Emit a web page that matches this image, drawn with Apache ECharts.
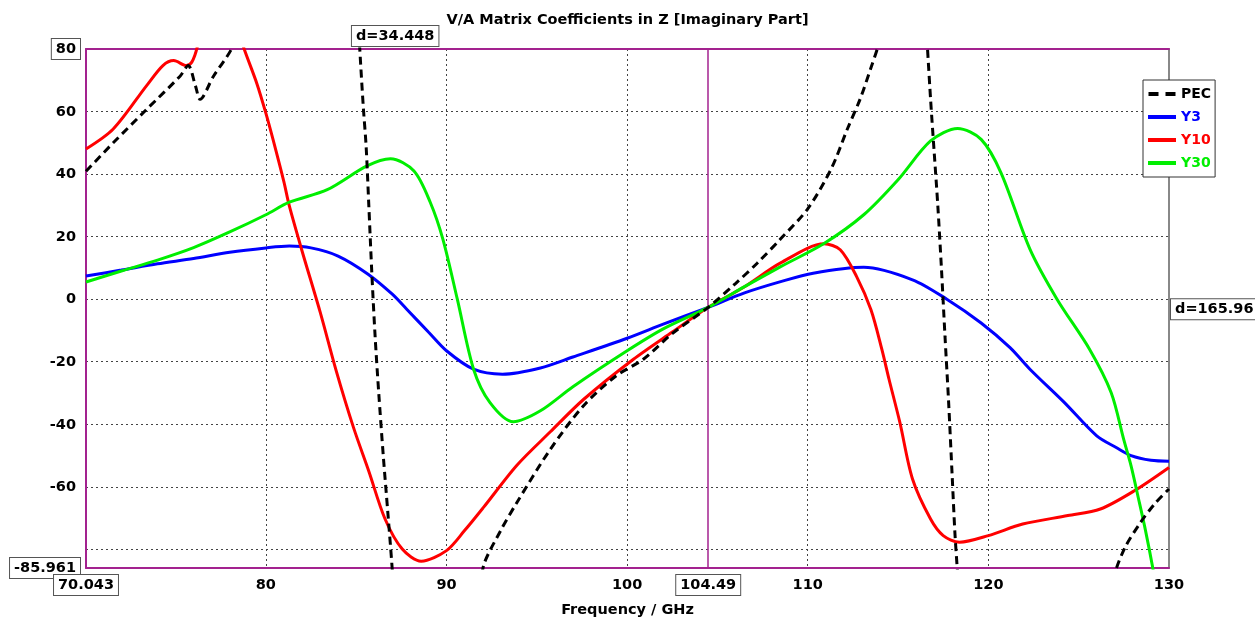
<!DOCTYPE html>
<html>
<head>
<meta charset="utf-8">
<script src="https://cdn.jsdelivr.net/npm/echarts@6/dist/echarts.min.js"></script>
<style>
  html, body { margin: 0; padding: 0; background: #fff; }
  #chart { width: 1255px; height: 619px; }
</style>
</head>
<body>
<div id="chart"></div>
<script>
// Imaginary part of the V/A matrix coefficients in Z, [frequency GHz, value]
// '-' breaks a curve where it leaves the plotted range through a pole.
const PEC = [
  [70.043, 40.9], [71.55, 50], [73.4, 60.7], [75.25, 71.3], [75.7, 74.7], [76.1, 68.3],
  [76.36, 63.9], [77.1, 71.3], [78.1, 80], [78.35, 85], ['-', '-'],
  [85.1, 90], [85.25, 75], [85.4, 61], [85.55, 49], [85.7, 30], [85.87, 8], [86.05, -12],
  [86.25, -30], [86.5, -50], [86.75, -68], [86.98, -85], [87.05, -92], ['-', '-'],
  [91.95, -92], [92.06, -85], [93, -74], [93.9, -65], [95.75, -48], [97.6, -34],
  [99.4, -24.5], [100.9, -19.2], [102.5, -11], [104.49, -2.6], [106, 5], [107.2, 11.5],
  [108.5, 19.3], [110, 28.9], [111.3, 41.7], [112.2, 54.5], [112.9, 64], [113.5, 74],
  [113.9, 81], [114.1, 86], ['-', '-'],
  [116.55, 88], [116.8, 64], [117.0, 47], [117.2, 30], [117.4, 10], [117.6, -12],
  [117.8, -33], [118.0, -57], [118.15, -75], [118.3, -88], ['-', '-'],
  [126.95, -90], [127.1, -85.9], [127.6, -79], [128.4, -71.6], [129.2, -65.5], [130, -60.7]
];
const Y3 = [
  [70.043, 7.4], [72, 9.3], [74, 11.3], [76, 13], [78, 15], [80, 16.4], [81.3, 17],
  [82.5, 16.4], [84, 13.8], [85.66, 8], [87, 1.6], [87.8, -3.2], [89, -10.5], [90, -16.5],
  [91.5, -22.4], [93.1, -24], [95.2, -22], [97, -18.5], [100, -12.5], [102, -8],
  [104.49, -2.6], [106.5, 2], [108.5, 5.6], [110.3, 8.3], [113.1, 10.2], [115.8, 6.2],
  [117.7, 0], [119.6, -7.6], [121.2, -15.5], [122.3, -22.4], [124.2, -33], [126, -43.7],
  [127.1, -47.5], [127.9, -50], [129, -51.5], [130, -51.8]
];
const Y10 = [
  [70.043, 48], [71.55, 54.4], [73.4, 68.3], [74.3, 74.7], [74.9, 76.3], [75.6, 74.7],
  [75.9, 75.8], [76.2, 80.6], [76.4, 88], ['-', '-'],
  [78.6, 84], [78.8, 80], [79.5, 69], [80, 59.5], [80.4, 51], [81, 37.5], [81.3, 29.8],
  [82, 15.5], [83, -4], [83.9, -23], [84.85, -41], [85.7, -55], [86.6, -70.3],
  [87.55, -79.9], [88.6, -83.8], [90, -80.4], [91, -74], [92.06, -66.5], [93.9, -53.1],
  [95.75, -42.4], [97.6, -32], [100.35, -19.2], [102.5, -10.5], [104.49, -2.6],
  [106.5, 4], [108.5, 11.6], [110.9, 17.7], [111.8, 15.8], [112.7, 7.3], [113.5, -3.4],
  [114.1, -16], [114.5, -25.6], [115.1, -39.4], [115.8, -57.5], [116.8, -70.3],
  [117.5, -75.6], [118.4, -77.7], [120, -75.6], [121.9, -71.9], [124.4, -69.2],
  [126.2, -67.1], [128.1, -61.2], [130, -53.8]
];
const Y30 = [
  [70.043, 5.5], [72, 9], [74, 12.5], [76, 16.5], [78, 21.5], [80, 27], [81.3, 31],
  [83.4, 35], [85.6, 42.6], [86.9, 44.9], [88.2, 41], [89.1, 31], [89.8, 19.2],
  [90.6, 0], [91.5, -22.4], [92.4, -33], [93.7, -39.2], [95.2, -35.7], [97, -28],
  [100, -16.5], [102, -9.5], [104.49, -2.6], [106.5, 4], [108.5, 10.4], [110.9, 17.8],
  [113.1, 27], [115, 38.2], [116.8, 50.6], [118.3, 54.6], [119.6, 51.1], [120.7, 40.4],
  [122.3, 16], [123.8, 0], [125.6, -16], [126.8, -29.9], [127.5, -45], [127.9, -53.3],
  [128.3, -63.5], [128.7, -74], [129.1, -85.9], [129.2, -90]
];

// Axis ticks, labels and grid positions
const xLabels = [70.043, 80, 90, 100, 104.49, 110, 120, 130];
const yLabels = [80, 60, 40, 20, 0, -20, -40, -60, -85.961];
const xGrid = [80, 90, 100, 110, 120];
const yGrid = [60, 40, 20, 0, -20, -40, -60, -80];
const xBoxed = [70.043, 104.49];
const yBoxed = [80, -85.961];
const xMin = 70.043, xMax = 130, yMin = -85.961, yMax = 80;
const markerFreq = 104.49;

const FONT = 'DejaVu Sans';
const FRAME = '#a3228f';
const FS = 14.5;

const boxStyle = {
  borderColor: '#555', borderWidth: 1, backgroundColor: '#fff',
  padding: [3, 4, 2, 4], fontWeight: 'bold', fontSize: FS, fontFamily: FONT, color: '#000'
};
const plainStyle = { fontWeight: 'bold', fontSize: FS, fontFamily: FONT, color: '#000', padding: [3, 4, 2, 4] };

const chart = echarts.init(document.getElementById('chart'), null, { renderer: 'canvas' });

function curve(name, data, color, z, dashed) {
  return {
    name, type: 'line', data, z,
    showSymbol: false, symbol: 'none', smooth: 0.3, connectNulls: false, clip: true,
    lineStyle: { color, width: 3, type: dashed ? [8, 5] : 'solid' },
    itemStyle: { color }
  };
}

const pecSeries = curve('PEC', PEC, '#000', 6, true);
pecSeries.markPoint = {
  silent: true, symbolSize: 0,
  data: [
    { coord: [87.16, yMax], label: { position: 'top', distance: 3 }, value: 'd=34.448' },
    { coord: [xMax, -2.6], label: { position: 'right', distance: 2, offset: [0, 2] }, value: 'd=165.96' }
  ],
  label: { show: true, formatter: p => p.value, ...boxStyle }
};

const lineIcon = 'path://M0 0H28V4H0Z';
const dashIcon = 'path://M0 0H10V4H0Z M17 0H27V4H17Z';

const option = {
  animation: false,
  backgroundColor: '#fff',
  title: {
    text: 'V/A Matrix Coefficients in Z [Imaginary Part]',
    left: 'center', top: 8,
    textStyle: { fontFamily: FONT, fontWeight: 'bold', fontSize: FS, color: '#000' }
  },
  legend: {
    orient: 'vertical', left: 1143, top: 80,
    backgroundColor: '#fff', borderColor: '#333', borderWidth: 1,
    padding: [7, 4, 7, 5], itemGap: 9, itemWidth: 28, itemHeight: 4,
    textStyle: { fontFamily: FONT, fontWeight: 'bold', fontSize: 14 },
    data: [
      { name: 'PEC', icon: dashIcon, itemStyle: { color: '#000' }, textStyle: { color: '#000' } },
      { name: 'Y3', icon: lineIcon, itemStyle: { color: '#0000ff' }, textStyle: { color: '#0000ff' } },
      { name: 'Y10', icon: lineIcon, itemStyle: { color: '#ff0000' }, textStyle: { color: '#ff0000' } },
      { name: 'Y30', icon: lineIcon, itemStyle: { color: '#00ee00' }, textStyle: { color: '#00ee00' } }
    ]
  },
  grid: { left: 86, right: 86, top: 49, bottom: 51, containLabel: false, outerBoundsMode: 'none' },
  xAxis: [
    {
      type: 'value', min: xMin, max: xMax,
      name: 'Frequency / GHz', nameLocation: 'middle', nameGap: 35,
      nameTextStyle: { fontFamily: FONT, fontWeight: 'bold', fontSize: FS, color: '#000' },
      axisLine: { show: true, onZero: false, lineStyle: { color: FRAME, width: 2 } },
      axisTick: { show: false, customValues: xGrid },
      axisLabel: {
        customValues: xLabels, margin: 7,
        formatter: v => (xBoxed.includes(v) ? '{box|' + v + '}' : '{plain|' + v + '}'),
        rich: { box: boxStyle, plain: plainStyle }
      },
      splitLine: { show: true, lineStyle: { color: '#444', width: 1, type: [2, 3] } }
    },
    {
      type: 'value', position: 'top', min: xMin, max: xMax,
      axisLine: { show: true, onZero: false, lineStyle: { color: FRAME, width: 2 } },
      axisTick: { show: false }, axisLabel: { show: false }, splitLine: { show: false }
    }
  ],
  yAxis: [
    {
      type: 'value', min: yMin, max: yMax,
      axisLine: { show: true, onZero: false, lineStyle: { color: FRAME, width: 2 } },
      axisTick: { show: false, customValues: yGrid },
      axisLabel: {
        customValues: yLabels, margin: 6,
        formatter: v => (yBoxed.includes(v) ? '{box|' + v + '}' : '{plain|' + v + '}'),
        rich: { box: boxStyle, plain: plainStyle }
      },
      splitLine: { show: true, lineStyle: { color: '#444', width: 1, type: [2, 3] } }
    },
    {
      type: 'value', position: 'right', min: yMin, max: yMax,
      axisLine: { show: true, onZero: false, lineStyle: { color: '#888', width: 2 } },
      axisTick: { show: false }, axisLabel: { show: false }, splitLine: { show: false }
    }
  ],
  series: [
    pecSeries,
    curve('Y3', Y3, '#0000ff', 3, false),
    curve('Y10', Y10, '#ff0000', 4, false),
    curve('Y30', Y30, '#00ee00', 5, false),
    {
      name: 'marker', type: 'line', data: [], z: 2,
      markLine: {
        silent: true, symbol: 'none', label: { show: false },
        lineStyle: { color: FRAME, width: 1.5, type: 'solid' },
        data: [{ xAxis: markerFreq }]
      }
    }
  ]
};

chart.setOption(option);
</script>
</body>
</html>
